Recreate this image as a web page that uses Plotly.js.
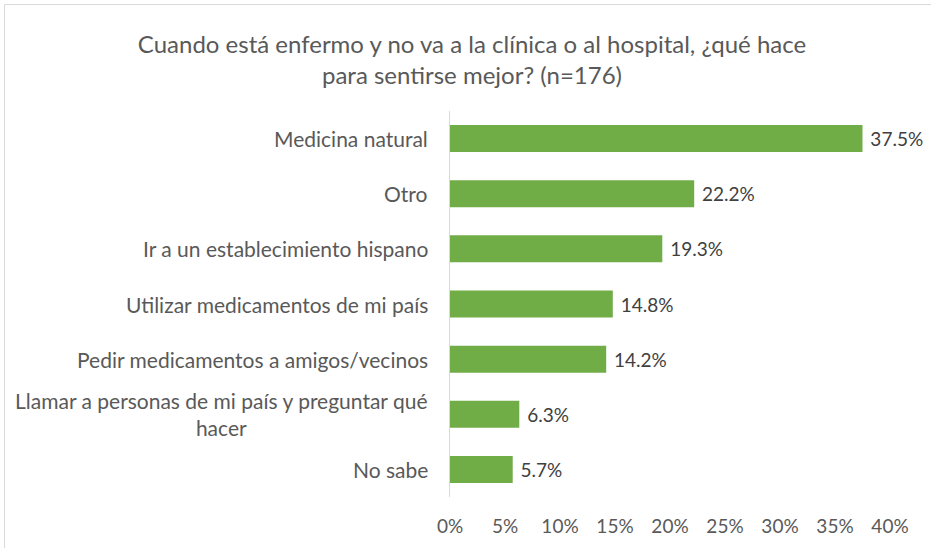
<!DOCTYPE html>
<html>
<head>
<meta charset="utf-8">
<script src="https://cdn.plot.ly/plotly-3.0.1.min.js"></script>
<style>html,body{margin:0;padding:0;background:#fff;overflow:hidden}</style>
</head>
<body>
<div id="chart" style="width:931px;height:548px"></div>
<script>
const categories = [
  "Medicina natural",
  "Otro",
  "Ir a un establecimiento hispano",
  "Utilizar medicamentos de mi país",
  "Pedir medicamentos a amigos/vecinos",
  "Llamar a personas de mi país y preguntar qué<br>hacer",
  "No sabe"
];
const values = [37.5, 22.2, 19.3, 14.8, 14.2, 6.3, 5.7];
const tickVals = [0, 5, 10, 15, 20, 25, 30, 35, 40];
const tickText = ["0%", "5%", "10%", "15%", "20%", "25%", "30%", "35%", "40%"];
const titleText = "Cuando está enfermo y no va a la clínica o al hospital, ¿qué hace<br>para sentirse mejor? (n=176)";

const FONT = "Lato, 'Open Sans', sans-serif";

const trace = {
  type: "bar",
  orientation: "h",
  y: categories,
  x: values,
  marker: {color: "#70AD47", line: {width: 0}},
  width: 0.49,
  text: values.map(v => "\u00a0" + v.toFixed(1) + "%"),
  textposition: "outside",
  textfont: {family: FONT, size: 19, color: "#404040"},
  constraintext: "none",
  cliponaxis: false,
  hoverinfo: "none"
};

const annotations = categories.map(c => ({
  xref: "paper", yref: "y", x: 0, y: c,
  xanchor: "right", yanchor: "middle", xshift: -20,
  text: c, align: "center", showarrow: false,
  font: {family: FONT, size: 21, color: "#595959"}
}));

const layout = {
  width: 931, height: 548,
  margin: {l: 450, r: 41, t: 111, b: 51, pad: 0},
  paper_bgcolor: "#ffffff", plot_bgcolor: "#ffffff",
  title: {
    text: titleText,
    x: 472 / 931, xanchor: "center", xref: "container",
    y: 1 - 53 / 548, yanchor: "middle", yref: "container",
    font: {family: FONT, size: 24, color: "#595959"}
  },
  showlegend: false,
  xaxis: {
    range: [0, 40], tickvals: tickVals, ticktext: tickText,
    showgrid: false, zeroline: false, showline: false,
    ticks: "", ticklabelstandoff: 16,
    tickfont: {family: FONT, size: 19, color: "#595959"},
    fixedrange: true
  },
  yaxis: {
    type: "category", autorange: "reversed",
    showticklabels: false, showgrid: false, zeroline: false,
    showline: true, linecolor: "#d9d9d9", linewidth: 1,
    ticks: "", fixedrange: true
  },
  annotations: annotations,
  shapes: [
    {type: "line", xref: "paper", yref: "paper", x0: (4.5 - 450) / 440, x1: (4.5 - 450) / 440, y0: (497 - 4.5) / 386, y1: -1, line: {color: "#d9d9d9", width: 1}},
    {type: "line", xref: "paper", yref: "paper", x0: (4.5 - 450) / 440, x1: 2, y0: (497 - 4.5) / 386, y1: (497 - 4.5) / 386, line: {color: "#d9d9d9", width: 1}}
  ]
};

Plotly.newPlot("chart", [trace], layout, {staticPlot: true, displayModeBar: false});
</script>
</body>
</html>
